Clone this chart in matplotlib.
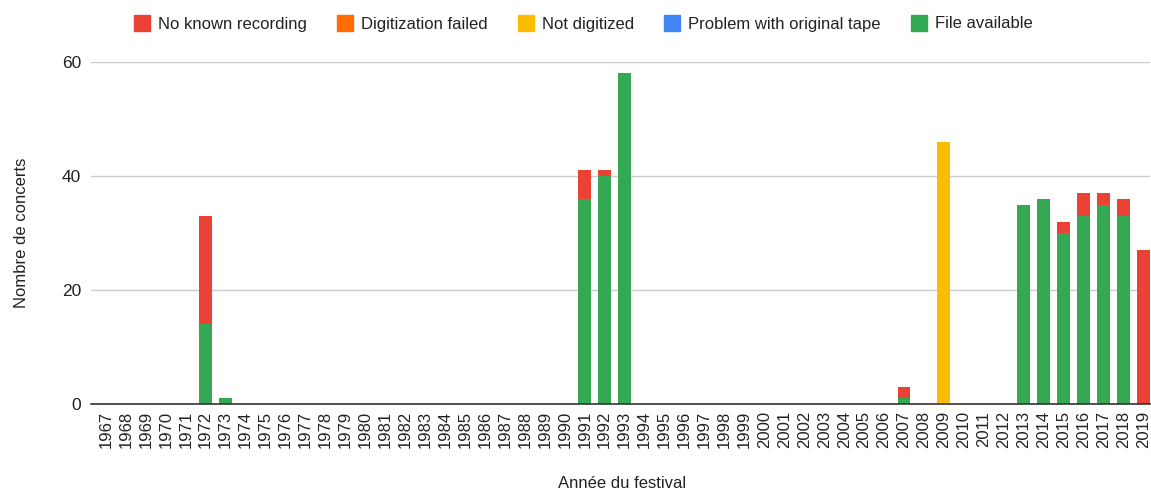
import matplotlib
matplotlib.use("Agg")
import matplotlib.pyplot as plt
from matplotlib.lines import Line2D
import numpy as np

plt.rcParams['font.family'] = ['Liberation Sans', 'DejaVu Sans']

years = [str(y) for y in range(1967, 2020)]

# values per year (1967..2019)
def series(d):
    return [d.get(int(y), 0) for y in years]

file_available = series({1972: 14, 1973: 1, 1991: 36, 1992: 40, 1993: 58, 2007: 1,
                         2013: 35, 2014: 36, 2015: 30, 2016: 33, 2017: 35, 2018: 33})
problem_tape = series({})
not_digitized = series({2009: 46})
digitization_failed = series({})
no_known_recording = series({1972: 19, 1991: 5, 1992: 1, 2007: 2,
                             2015: 2, 2016: 4, 2017: 2, 2018: 3, 2019: 27})

labels = ["No known recording", "Digitization failed", "Not digitized",
          "Problem with original tape", "File available"]
colors = ["#EA4335", "#FF6D01", "#FBBC04", "#4285F4", "#34A853"]

fig = plt.figure(figsize=(11.51, 4.91), dpi=100)
ax = fig.add_axes([91/1151, 87/491, (1150-91)/1151, (404-62)/491])

x = np.arange(len(years))
stack = [(file_available, colors[4]), (problem_tape, colors[3]),
         (not_digitized, colors[2]), (digitization_failed, colors[1]),
         (no_known_recording, colors[0])]
bottom = np.zeros(len(years))
for vals, c in stack:
    v = np.array(vals, dtype=float)
    ax.bar(x, v, bottom=bottom, width=0.65, color=c, linewidth=0, zorder=3)
    bottom += v

ax.set_xlim(-0.75, len(years) - 1 + 0.33)
ax.set_ylim(0, 60)
ax.set_yticks([0, 20, 40, 60])
ax.yaxis.grid(True, color="#CCCCCC", linewidth=1, zorder=0)
ax.set_xticks(x)
ax.set_xticklabels(years, rotation=90, fontsize=12, color="#222222")
ax.tick_params(axis='y', labelsize=12.5, colors="#222222", length=0, pad=7)
ax.tick_params(axis='x', length=0, pad=5)
for s in ["top", "right", "left"]:
    ax.spines[s].set_visible(False)
ax.spines["bottom"].set_color("#333333")
ax.spines["bottom"].set_linewidth(1.2)
ax.spines["bottom"].set_zorder(4)

ax.set_ylabel("Nombre de concerts", fontsize=12, color="#222222")
ax.yaxis.set_label_coords(-0.059, 0.5)
fig.text(622/1151, 1 - 484/491, "Année du festival", fontsize=12, color="#222222",
         ha="center", va="center")

handles = [Line2D([0], [0], marker='s', linestyle='', markersize=12,
                  markerfacecolor=c, markeredgecolor=c) for c in colors]
fig.legend(handles, labels, loc="center", bbox_to_anchor=(583/1151, 1 - 24/491),
           ncol=5, frameon=False, fontsize=12, handletextpad=0.45, columnspacing=1.8,
           handlelength=1.0, labelcolor="#222222")

fig.savefig("out.png", dpi=100)
